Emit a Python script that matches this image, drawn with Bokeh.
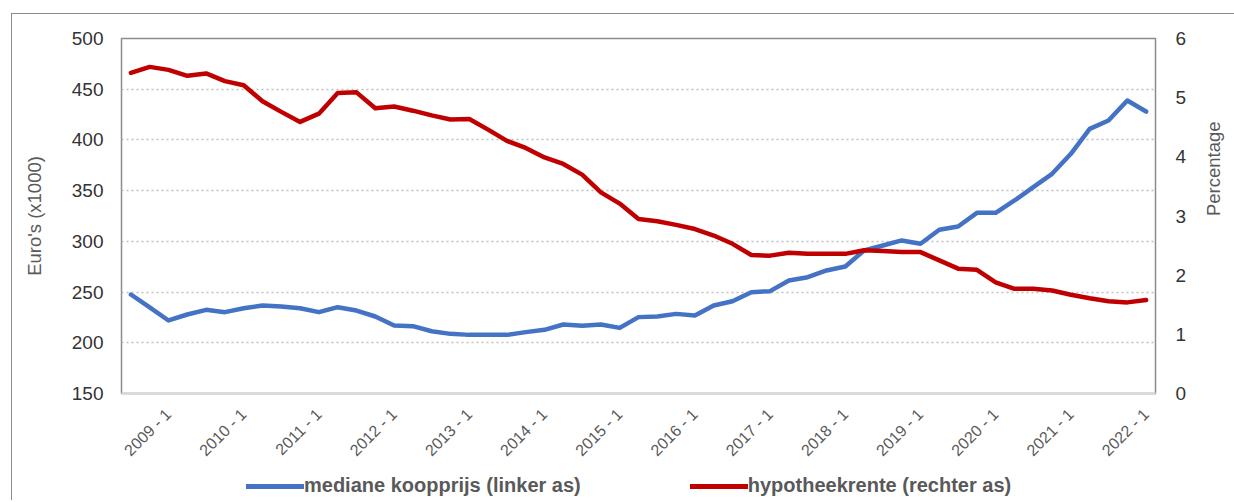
import math
from bokeh.plotting import figure
from bokeh.layouts import column
from bokeh.models import Range1d, LinearAxis, FixedTicker, Legend, LegendItem
from bokeh.core.properties import value
from bokeh.embed import file_html
from bokeh.resources import INLINE

# quarterly categories 2008 - 3 ... 2022 - 1
quarters = ["2008 - 3", "2008 - 4"] + [f"{y} - {q}" for y in range(2009, 2022) for q in range(1, 5)] + ["2022 - 1"]

tick_labels = ["2009 - 1", "2010 - 1", "2011 - 1", "2012 - 1", "2013 - 1", "2014 - 1", "2015 - 1",
               "2016 - 1", "2017 - 1", "2018 - 1", "2019 - 1", "2020 - 1", "2021 - 1", "2022 - 1"]

# mediane koopprijs (x1000 euro), left axis
koopprijs = [247.6, 235.0, 222.0, 227.9, 232.5, 230.2, 234.1, 236.8, 235.8, 234.1,
             230.2, 235.1, 231.8, 225.9, 217.0, 216.4, 211.4, 208.8, 207.8, 207.8,
             207.8, 210.5, 212.8, 218.0, 216.7, 218.0, 214.7, 225.3, 225.9, 228.5,
             226.9, 236.8, 241.0, 249.9, 250.9, 261.4, 264.7, 271.3, 275.2, 291.0,
             295.9, 300.9, 297.6, 311.4, 314.6, 328.1, 328.1, 340.3, 353.4, 366.6,
             386.3, 410.9, 419.2, 438.9, 428.0]

# hypotheekrente (%), right axis
rente = [5.42, 5.52, 5.47, 5.37, 5.41, 5.28, 5.21, 4.94, 4.76, 4.59,
         4.73, 5.08, 5.09, 4.82, 4.85, 4.78, 4.70, 4.63, 4.64, 4.46,
         4.27, 4.15, 3.99, 3.88, 3.70, 3.40, 3.21, 2.95, 2.91, 2.85,
         2.78, 2.67, 2.53, 2.34, 2.33, 2.38, 2.36, 2.36, 2.36, 2.42,
         2.41, 2.39, 2.39, 2.25, 2.11, 2.09, 1.88, 1.77, 1.77, 1.74,
         1.67, 1.61, 1.56, 1.54, 1.58]

left_ticks = [150, 200, 250, 300, 350, 400, 450, 500]
right_ticks = [0, 1, 2, 3, 4, 5, 6]

x = list(range(len(quarters)))
tick_pos = [quarters.index(t) for t in tick_labels]

FONT = "Liberation Sans"
BLUE = "#4472C4"
RED = "#C00000"
FRAME_W = 1034
n = len(quarters)

# ---------------- main chart ----------------
p = figure(frame_width=FRAME_W, frame_height=355,
           x_range=Range1d(-0.5, n - 0.5), y_range=Range1d(150, 500),
           output_backend="svg", toolbar_location=None,
           min_border_left=109, min_border_top=24, min_border_right=77, min_border_bottom=11)
p.extra_y_ranges = {"pct": Range1d(0, 6)}

p.outline_line_color = "#8c8c8c"
p.outline_line_width = 1.5
p.background_fill_color = "white"
p.border_fill_color = "white"

p.xgrid.visible = False
p.ygrid.grid_line_color = "#bfbfbf"
p.ygrid.grid_line_dash = "2 3"
p.ygrid.grid_line_width = 1.5

ya = p.yaxis[0]
ya.ticker = FixedTicker(ticks=left_ticks)
ya.axis_label = "Euro's (x1000)"

ra = LinearAxis(y_range_name="pct", ticker=FixedTicker(ticks=right_ticks), axis_label="Percentage")
p.add_layout(ra, "right")
try:
    ra.axis_label_orientation = math.pi / 2
except Exception:
    pass

for ax in (ya, ra):
    ax.axis_line_color = None
    ax.major_tick_line_color = None
    ax.minor_tick_line_color = None
    ax.major_tick_out = 0
    ax.major_tick_in = 0
    ax.minor_tick_out = 0
    ax.major_label_text_font = FONT
    ax.major_label_text_font_size = "19px"
    ax.major_label_text_color = "#333333"
    ax.axis_label_text_font = FONT
    ax.axis_label_text_font_size = "18.5px"
    ax.axis_label_text_font_style = "normal"
    ax.axis_label_text_color = "#595959"
    ax.axis_label_standoff = 24
ya.major_label_standoff = 18
ra.major_label_standoff = 20

xa = p.xaxis[0]
xa.ticker = FixedTicker(ticks=tick_pos)
xa.major_label_text_color = None
xa.major_tick_line_color = None
xa.minor_tick_line_color = None
xa.major_tick_out = 0
xa.major_tick_in = 0
xa.minor_tick_out = 0
xa.axis_line_color = "#d9d9d9"
xa.axis_line_width = 2.5

p.line(x, koopprijs, line_color=BLUE, line_width=4.5, line_join="round", line_cap="round")
p.line(x, rente, y_range_name="pct", line_color=RED, line_width=4.5,
       line_join="round", line_cap="round")

# ---------------- category labels + legend strip ----------------
STRIP_H = 96
p2 = figure(frame_width=FRAME_W, frame_height=STRIP_H,
            x_range=Range1d(-0.5, n - 0.5), y_range=Range1d(0, STRIP_H),
            output_backend="svg", toolbar_location=None,
            x_axis_location=None, y_axis_location=None,
            min_border_left=109, min_border_right=77, min_border_top=0, min_border_bottom=0)
p2.extra_y_ranges = {"pct": Range1d(100, 200)}
p2.outline_line_color = None
p2.grid.visible = False
p2.background_fill_color = "white"
p2.border_fill_color = "white"

p2.text(x=tick_pos, y=[STRIP_H - 7] * len(tick_pos), text=tick_labels, angle=math.pi / 4,
        text_align="right", text_baseline="middle", text_font=value(FONT),
        text_font_size="16px", text_color="#595959")

# same series, outside the strip's visible range: only used for the legend swatches
g1 = p2.line(x, koopprijs, line_color=BLUE, line_width=5, line_cap="round")
g2 = p2.line(x, rente, y_range_name="pct", line_color=RED, line_width=5, line_cap="round")

lg = Legend(items=[LegendItem(label="mediane koopprijs (linker as)", renderers=[g1]),
                   LegendItem(label="hypotheekrente (rechter as)", renderers=[g2])],
            location=(125, 3), orientation="horizontal")
lg.background_fill_alpha = 0
lg.border_line_color = None
lg.padding = 0
lg.margin = 0
lg.spacing = 109
lg.label_standoff = 0
lg.glyph_width = 58
lg.glyph_height = 20
lg.label_height = 20
lg.label_text_font = FONT
lg.label_text_font_size = "20px"
lg.label_text_font_style = "bold"
lg.label_text_color = "#595959"
p2.add_layout(lg, "center")

layout = column(p, p2, spacing=0, margin=(13, 0, 0, 11))
layout.styles = {"border-top": "1px solid #8c8c8c", "border-left": "1px solid #8c8c8c"}

open("out.html", "w").write(file_html(layout, INLINE))
